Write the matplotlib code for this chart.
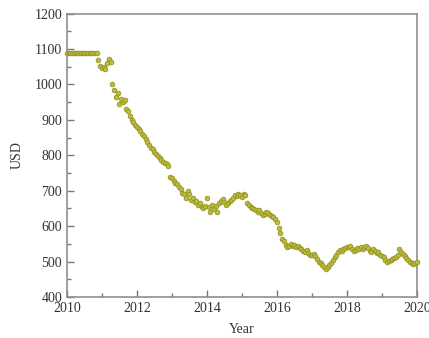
import numpy as np
import matplotlib
matplotlib.use("Agg")
import matplotlib.pyplot as plt
from matplotlib.ticker import MultipleLocator

# price in USD, sampled every 0.05 year from 2010.00 to 2020.00
usd = [
    # 2010
    1090, 1090, 1090, 1090, 1090, 1090, 1090, 1090, 1090, 1090,
    1090, 1090, 1090, 1090, 1090, 1090, 1090, 1090, 1070, 1052,
    # 2011
    1045, 1050, 1043, 1060, 1072, 1062, 1000, 985, 965, 975,
    945, 960, 950, 955, 930, 925, 910, 900, 895, 885,
    # 2012
    880, 875, 868, 860, 855, 845, 838, 830, 822, 818,
    810, 805, 798, 792, 788, 782, 778, 775, 770, 740,
    # 2013
    735, 728, 722, 718, 712, 705, 695, 690, 680, 700,
    690, 675, 680, 668, 672, 660, 665, 655, 652, 658,
    # 2014
    680, 655, 640, 660, 648, 657, 640, 665, 672, 678,
    668, 660, 665, 670, 675, 680, 688, 685, 692, 688,
    # 2015
    683, 690, 688, 665, 660, 655, 650, 648, 645, 640,
    645, 638, 632, 635, 640, 638, 632, 630, 625, 620,
    # 2016
    612, 595, 580, 565, 558, 548, 540, 545, 550, 545,
    548, 540, 545, 538, 535, 530, 528, 532, 525, 520,
    # 2017
    518, 522, 515, 508, 500, 495, 490, 485, 480, 485,
    490, 495, 505, 512, 520, 528, 532, 530, 535, 538,
    # 2018
    540, 542, 545, 535, 530, 532, 538, 535, 540, 536,
    540, 545, 538, 530, 528, 535, 530, 525, 528, 520,
    # 2019
    515, 512, 505, 500, 502, 505, 508, 510, 512, 520,
    535, 528, 522, 515, 510, 505, 498, 495, 492, 495,
    # 2020
    498,
]
years = 2010 + 0.05 * np.arange(len(usd))

plt.rcParams['font.family'] = ['Liberation Serif', 'DejaVu Serif']
plt.rcParams['font.size'] = 10

fig = plt.figure(figsize=(4.29, 3.38), dpi=100)
ax = fig.add_axes([0.156, 0.121, 0.816, 0.839])

ax.scatter(years, usd, s=11, facecolor='#bcbc44', edgecolor='#95951f',
           linewidth=0.6, zorder=3, clip_on=False)

ax.set_xlim(2010, 2020)
ax.set_ylim(400, 1200)
ax.xaxis.set_major_locator(MultipleLocator(2))
ax.xaxis.set_minor_locator(MultipleLocator(1))
ax.yaxis.set_major_locator(MultipleLocator(100))
ax.yaxis.set_minor_locator(MultipleLocator(50))
ax.tick_params(which='both', direction='in', colors='#777777',
               labelcolor='#333333', top=False, right=False)
ax.tick_params(which='major', length=5, width=1)
ax.tick_params(which='minor', length=3, width=1)
for sp in ax.spines.values():
    sp.set_color('#8f8f8f')
    sp.set_linewidth(1.2)

ax.set_xlabel('Year', color='#333333', labelpad=6)
ax.set_ylabel('USD', color='#333333', labelpad=8)

fig.savefig('out.png', dpi=100)
